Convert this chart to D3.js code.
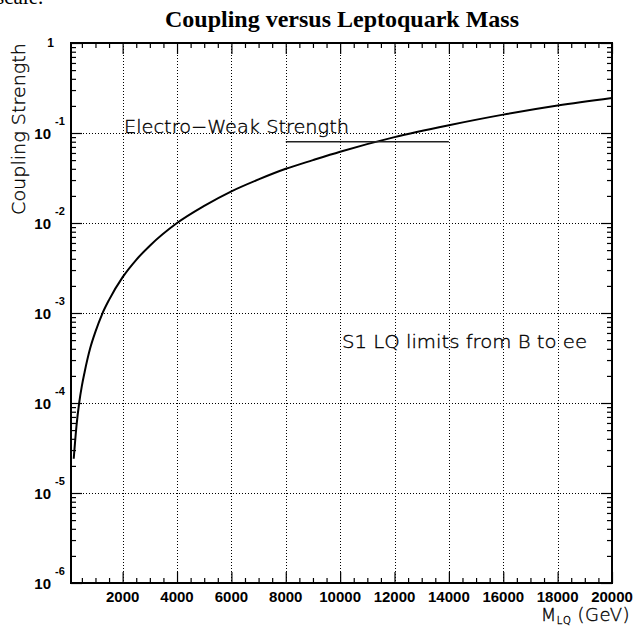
<!DOCTYPE html>
<html>
<head>
<meta charset="utf-8">
<script src="https://cdn.jsdelivr.net/npm/d3@7"></script>
<style>
  body { margin: 0; background: #fff; }
  .thin { font-family: "DejaVu Sans", "Liberation Sans", sans-serif; font-weight: 200; fill: #000; stroke: #000; stroke-width: 0.35; }
  .lab { font-family: "Liberation Sans", Arial, sans-serif; font-weight: bold; }
</style>
</head>
<body>
<svg id="chart" width="637" height="628"></svg>
<script>
// values
const massGeV  = [200, 300, 400, 500, 600, 800, 1000, 1250, 1500, 2000, 2500, 3000, 4000,
                  5000, 6000, 7000, 8000, 9000, 10000, 12000, 14000, 16000, 18000, 20000];
const coupling = [2.4e-5, 5.5e-5, 1.0e-4, 1.55e-4, 2.2e-4, 4.0e-4, 6.2e-4, 9.8e-4, 1.4e-3,
                  2.5e-3, 3.9e-3, 5.6e-3, 1.0e-2, 1.55e-2, 2.25e-2, 3.05e-2, 4.0e-2, 5.0e-2,
                  6.2e-2, 9.0e-2, 0.122, 0.16, 0.202, 0.245];

// electro-weak reference line
const ewMass = [8000, 14000];
const ewCoupling = [0.08, 0.08];

const xTickValues = [2000, 4000, 6000, 8000, 10000, 12000, 14000, 16000, 18000, 20000];
const yTickExps = [-6, -5, -4, -3, -2, -1, 0];

const svg = d3.select('#chart');
const pLeft = 71, pRight = 612, pTop = 43, pBottom = 583;

const x = d3.scaleLinear().domain([100, 20000]).range([pLeft, pRight]);
const y = d3.scaleLog().domain([1e-6, 1]).range([pBottom, pTop]);

// clipped text from the page above the figure
svg.append('text')
    .attr('x', -4).attr('y', 4)
    .style('font-family', '"Liberation Serif", serif')
    .style('font-size', '21px')
    .text('scale.');

// title
svg.append('text')
    .attr('x', 342).attr('y', 27)
    .attr('text-anchor', 'middle')
    .style('font-family', '"Liberation Serif", "Times New Roman", serif')
    .style('font-weight', 'bold')
    .style('font-size', '24px')
    .text('Coupling versus Leptoquark Mass');

// grid
const minorX = d3.range(500, 20000, 500).filter(v => v % 2000 !== 0);
const minorY = [];
yTickExps.slice(0, -1).forEach(e => {
    for (let k = 2; k <= 9; k++) minorY.push(k * Math.pow(10, e));
});

const grid = svg.append('g')
    .attr('stroke', '#000')
    .attr('stroke-width', 1)
    .attr('stroke-dasharray', '1,2');

grid.selectAll('line.gx')
    .data(xTickValues.filter(v => v < 20000))
    .join('line')
    .attr('class', 'gx')
    .attr('x1', d => Math.round(x(d)) + 0.5).attr('x2', d => Math.round(x(d)) + 0.5)
    .attr('y1', pTop).attr('y2', pBottom);

grid.selectAll('line.gy')
    .data(yTickExps.slice(1, -1))
    .join('line')
    .attr('class', 'gy')
    .attr('x1', pLeft).attr('x2', pRight)
    .attr('y1', d => Math.round(y(Math.pow(10, d))) + 0.5)
    .attr('y2', d => Math.round(y(Math.pow(10, d))) + 0.5);

// axes with inward ticks
function tickAxis(axis, tr, values, size) {
    const g = svg.append('g')
        .attr('transform', tr)
        .call(axis.tickValues(values).tickSize(size).tickFormat(''));
    g.select('.domain').remove();
    g.selectAll('line').attr('stroke', '#000').attr('stroke-width', 1.2);
    return g;
}

tickAxis(d3.axisBottom(x), `translate(0,${pBottom})`, xTickValues, -11);
tickAxis(d3.axisBottom(x), `translate(0,${pBottom})`, minorX, -5);
tickAxis(d3.axisTop(x), `translate(0,${pTop})`, xTickValues, -11);
tickAxis(d3.axisTop(x), `translate(0,${pTop})`, minorX, -5);

const yMajor = yTickExps.map(e => Math.pow(10, e));
tickAxis(d3.axisLeft(y), `translate(${pLeft},0)`, yMajor, -11);
tickAxis(d3.axisLeft(y), `translate(${pLeft},0)`, minorY, -5);
tickAxis(d3.axisRight(y), `translate(${pRight},0)`, yMajor, -11);
tickAxis(d3.axisRight(y), `translate(${pRight},0)`, minorY, -5);

// x labels
svg.append('g').selectAll('text')
    .data(xTickValues)
    .join('text')
    .attr('class', 'lab')
    .attr('x', d => x(d)).attr('y', 602)
    .attr('text-anchor', 'middle')
    .style('font-size', '15px')
    .text(d => d);

// y labels: 10^e
const yl = svg.append('g');
yTickExps.forEach(e => {
    const py = y(Math.pow(10, e));
    if (e === 0) {
        yl.append('text').attr('class', 'lab')
            .attr('x', 54).attr('y', py + 4)
            .attr('text-anchor', 'end')
            .style('font-size', '12px')
            .text('1');
        return;
    }
    yl.append('text').attr('class', 'lab')
        .attr('x', 51).attr('y', py + 6)
        .attr('text-anchor', 'end')
        .style('font-size', '15px')
        .text('10');
    yl.append('text').attr('class', 'lab')
        .attr('x', 55).attr('y', py - 8)
        .style('font-size', '11px')
        .text(String(e));
});

// frame
svg.append('rect')
    .attr('x', pLeft).attr('y', pTop)
    .attr('width', pRight - pLeft).attr('height', pBottom - pTop)
    .attr('fill', 'none').attr('stroke', '#000').attr('stroke-width', 2);

// curve
const line = d3.line()
    .x((d, i) => x(massGeV[i]))
    .y(d => y(d))
    .curve(d3.curveMonotoneX);

svg.append('path')
    .datum(coupling)
    .attr('d', line)
    .attr('fill', 'none')
    .attr('stroke', '#000')
    .attr('stroke-width', 2);

// electro-weak line
const ewLine = d3.line()
    .x((d, i) => x(ewMass[i]))
    .y(d => y(d));

svg.append('path')
    .datum(ewCoupling)
    .attr('d', ewLine)
    .attr('fill', 'none')
    .attr('stroke', '#222')
    .attr('stroke-width', 1.5);

// annotations
svg.append('text').attr('class', 'thin')
    .attr('x', 124).attr('y', 132.5)
    .style('font-size', '18px')
    .attr('textLength', 225).attr('lengthAdjust', 'spacingAndGlyphs')
    .text('Electro\u2212Weak Strength');

svg.append('text').attr('class', 'thin')
    .attr('x', 342).attr('y', 347.5)
    .style('font-size', '18px')
    .attr('textLength', 245).attr('lengthAdjust', 'spacingAndGlyphs')
    .text('S1 LQ limits from B to ee');

// axis titles
svg.append('text').attr('class', 'thin')
    .attr('transform', 'translate(25,43) rotate(-90)')
    .attr('text-anchor', 'end')
    .style('font-size', '18px')
    .attr('textLength', 172).attr('lengthAdjust', 'spacingAndGlyphs')
    .text('Coupling Strength');

const xt = svg.append('text').attr('class', 'thin')
    .attr('x', 630).attr('y', 621)
    .attr('text-anchor', 'end')
    .style('font-size', '18px')
    .style('letter-spacing', '0.5px');
xt.append('tspan').text('M');
xt.append('tspan').attr('dy', 3).style('font-size', '10px').text('LQ');
xt.append('tspan').attr('dy', -3).text(' (GeV)');
</script>
</body>
</html>
